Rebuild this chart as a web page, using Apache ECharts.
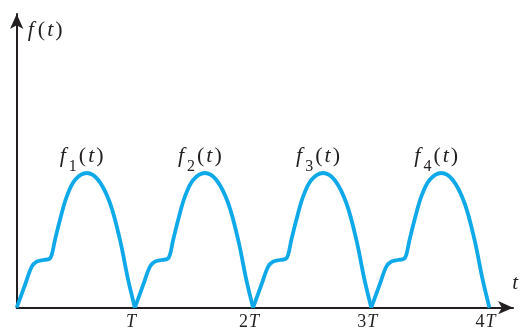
<!DOCTYPE html>
<html>
<head>
<meta charset="utf-8">
<script src="https://cdn.jsdelivr.net/npm/echarts@6/dist/echarts.min.js"></script>
<style>
  html, body { margin: 0; padding: 0; background: #ffffff; }
  #chart { width: 521px; height: 332px; }
</style>
</head>
<body>
<div id="chart"></div>
<script>
// One pulse of f(t): time in units of T, amplitude relative to the pulse peak
const pulseTime  = [0, 0.070, 0.127, 0.169, 0.225, 0.276, 0.296, 0.324, 0.366, 0.423, 0.493, 0.592, 0.690, 0.789, 0.874, 0.943, 1.000];
const pulseValue = [0, 0.169, 0.304, 0.342, 0.354, 0.362, 0.391, 0.503, 0.651, 0.824, 0.948, 1.000, 0.948, 0.777, 0.503, 0.206, 0];
// Start of each pulse (in periods) and its subscript
const pulseStart = [0, 1, 2, 3];
const pulseIndex = ['1', '2', '3', '4'];
// Time-axis labels
const tickValues = [1, 2, 3, 4];
const tickLabels = ['T', '2T', '3T', '4T'];

const ink = '#231f20';
const curveColor = '#0fa9ea';
const serif = '"Liberation Serif", "Times New Roman", serif';

const mathRich = {
  f:  { fontFamily: serif, fontStyle: 'italic', fontSize: 22, color: ink, verticalAlign: 'top', padding: [0, 3, 0, 1] },
  p:  { fontFamily: serif, fontSize: 22, color: ink, verticalAlign: 'top', padding: [0, 1, 0, 1] },
  t:  { fontFamily: serif, fontStyle: 'italic', fontSize: 22, color: ink, verticalAlign: 'top', padding: [0, 1, 0, 1] },
  s:  { fontFamily: serif, fontSize: 16, color: ink, verticalAlign: 'top', padding: [14, 1, 0, 0] }
};

const tickRich = {
  n: { fontFamily: serif, fontSize: 18, color: ink, padding: [0, 1, 0, 0] },
  v: { fontFamily: serif, fontStyle: 'italic', fontSize: 18, color: ink }
};

const peakAt = pulseValue.indexOf(Math.max.apply(null, pulseValue));

const series = pulseStart.map(function (start, k) {
  const data = pulseTime.map(function (t, i) {
    const point = { value: [start + t, pulseValue[i]] };
    if (i === peakAt) {
      // an invisible symbol carries the pulse name above its peak
      point.symbol = 'circle';
      point.symbolSize = 0.01;
      point.label = {
        show: true,
        position: 'top',
        distance: 2,
        offset: [-5, 4],
        formatter: '{f|f}{s|' + pulseIndex[k] + '}{p|(}{t|t}{p|)}',
        rich: mathRich
      };
    }
    return point;
  });
  return {
    type: 'line',
    data: data,
    smooth: 0.35,
    symbol: 'none',
    showSymbol: true,
    lineStyle: { color: curveColor, width: 3.8 },
    itemStyle: { color: curveColor },
    emphasis: { disabled: true },
    z: 3
  };
});

const chart = echarts.init(document.getElementById('chart'), null, { renderer: 'canvas' });
chart.setOption({
  animation: false,
  backgroundColor: '#ffffff',
  grid: { left: 16.7, right: 7.5, top: 14, bottom: 24.3, containLabel: false },
  xAxis: {
    type: 'value',
    min: 0,
    max: 4.2,
    interval: 1,
    name: '{t|t}',
    nameLocation: 'end',
    nameGap: 2,
    nameTextStyle: {
      align: 'center',
      verticalAlign: 'bottom',
      padding: [0, 0, 14, 0],
      rich: { t: { fontFamily: serif, fontStyle: 'italic', fontSize: 21, color: ink } }
    },
    axisLine: {
      show: true,
      onZero: false,
      symbol: ['none', 'arrow'],
      symbolSize: [10, 15],
      lineStyle: { color: ink, width: 2 }
    },
    axisTick: { show: false },
    splitLine: { show: false },
    axisLabel: {
      margin: 6,
      padding: [0, 8, 0, 0],
      formatter: function (value) {
        const i = tickValues.indexOf(Math.round(value * 1000) / 1000);
        if (i < 0) return '';
        const m = tickLabels[i].match(/^(\d*)T$/);
        return (m[1] ? '{n|' + m[1] + '}' : '') + '{v|T}';
      },
      rich: tickRich
    }
  },
  yAxis: {
    type: 'value',
    min: 0,
    max: 2.18,
    name: '{f|f}{p|(}{t|t}{p|)}',
    nameLocation: 'end',
    nameGap: -16,
    nameTextStyle: {
      align: 'left',
      verticalAlign: 'middle',
      padding: [0, 0, 0, 10],
      rich: mathRich
    },
    axisLine: {
      show: true,
      onZero: false,
      symbol: ['none', 'arrow'],
      symbolSize: [10, 15],
      lineStyle: { color: ink, width: 2 }
    },
    axisTick: { show: false },
    axisLabel: { show: false },
    splitLine: { show: false }
  },
  series: series
});
</script>
</body>
</html>
